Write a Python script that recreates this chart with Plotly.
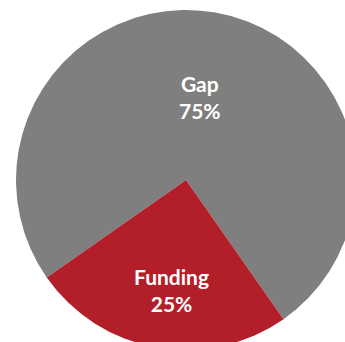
import plotly.graph_objects as go

labels = ["Gap", "Funding"]
values = [75, 25]
colors = ["#7F7F7F", "#B31F28"]

W, H = 360, 356
fig = go.Figure(go.Pie(
    labels=labels,
    values=values,
    sort=False,
    direction="clockwise",
    rotation=235,
    marker=dict(colors=colors, line=dict(width=0)),
    textinfo="none",
    hoverinfo="skip",
    domain=dict(x=[16 / W, 356 / W], y=[(H - 350) / H, (H - 10) / H]),
))

# label anchor points (page pixels) for the slice labels
label_px = [(200, 97), (171, 290)]
total = sum(values)
for lab, val, (px, py) in zip(labels, values, label_px):
    fig.add_annotation(
        x=px / W, y=(H - py) / H, xref="paper", yref="paper",
        text=f"{lab}<br>{round(100 * val / total)}%",
        showarrow=False, xanchor="center", yanchor="middle",
        font=dict(family="Lato", size=21, color="white", weight="bold"),
    )

fig.update_layout(
    width=W, height=H,
    margin=dict(l=0, r=0, t=0, b=0),
    showlegend=False,
    paper_bgcolor="white",
    plot_bgcolor="white",
)
fig.write_html(
    "out.html",
    config={"displayModeBar": False, "staticPlot": True},
    post_script="document.documentElement.style.overflow='hidden';document.body.style.overflow='hidden';document.body.style.margin='0';",
)
